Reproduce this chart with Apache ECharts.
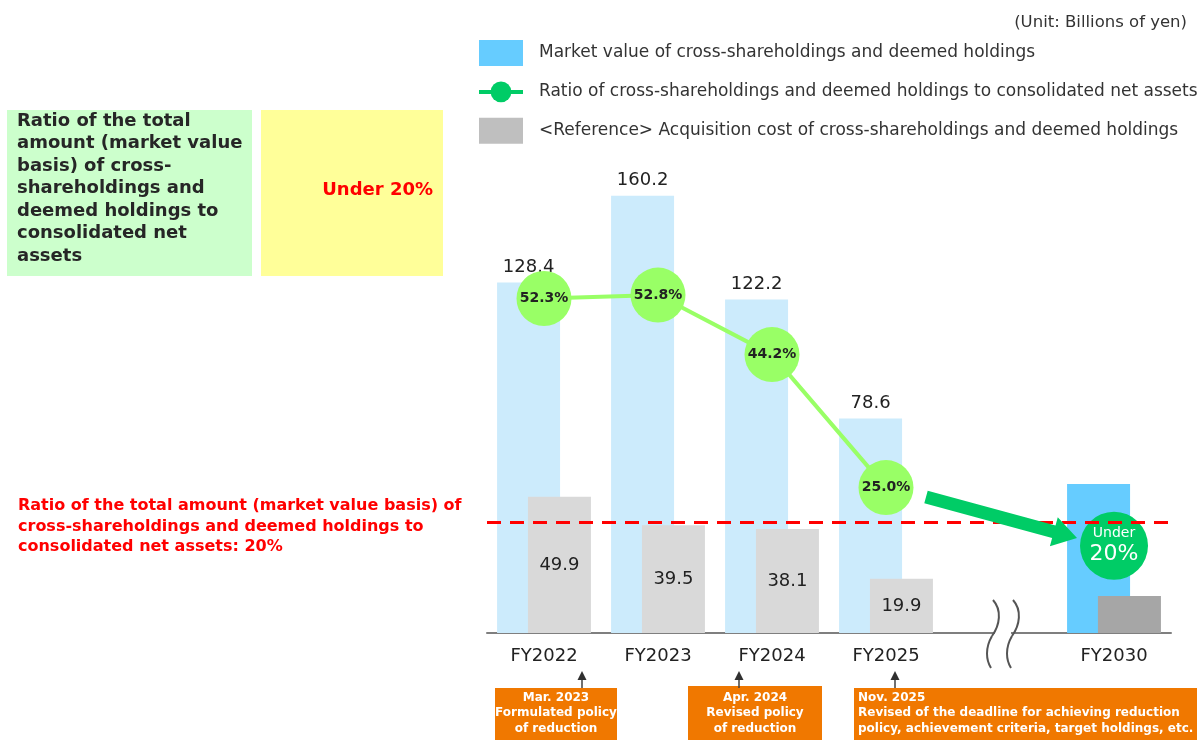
<!DOCTYPE html>
<html>
<head>
<meta charset="utf-8">
<script src="https://cdn.jsdelivr.net/npm/echarts@6/dist/echarts.min.js"></script>
<style>
  html, body { margin: 0; padding: 0; background: #fff; }
  #main { width: 1198px; height: 740px; }
</style>
</head>
<body>
<div id="main"></div>
<script>
var years = ['FY2022', 'FY2023', 'FY2024', 'FY2025', '', 'FY2030'];
var marketValue = [128.4, 160.2, 122.2, 78.6, '-', 54.6];
var acquisitionCost = [49.9, 39.5, 38.1, 19.9, '-', 13.6];
var ratio = [52.3, 52.8, 44.2, 25.0, '-', '-'];
var targetRatio = ['-', '-', '-', '-', '-', 16.6];
var targetLine = 20;

var nameMarket = 'Market value of cross-shareholdings and deemed holdings';
var nameRatio = 'Ratio of cross-shareholdings and deemed holdings to consolidated net assets';
var nameCost = '<Reference> Acquisition cost of cross-shareholdings and deemed holdings';

var FONT = 'DejaVu Sans';

var myChart = echarts.init(document.getElementById('main'));

// big green arrow (25% -> under 20%)
function arrowPoints(sx, sy, tx, ty, w, L, H) {
    var dx = tx - sx, dy = ty - sy;
    var len = Math.sqrt(dx * dx + dy * dy);
    var ux = dx / len, uy = dy / len;
    var nx = -uy, ny = ux;
    var bx = tx - L * ux, by = ty - L * uy;
    return [
        [sx + w * nx, sy + w * ny],
        [bx + w * nx, by + w * ny],
        [bx + H * nx, by + H * ny],
        [tx, ty],
        [bx - H * nx, by - H * ny],
        [bx - w * nx, by - w * ny],
        [sx - w * nx, sy - w * ny]
    ];
}

// small black arrow under the axis
function smallArrow(x) {
    return [
        { type: 'line', z: 100, shape: { x1: x, y1: 688, x2: x, y2: 678 }, style: { stroke: '#404040', lineWidth: 1.5 } },
        { type: 'polygon', z: 100, shape: { points: [[x, 671], [x - 4.5, 680], [x + 4.5, 680]] }, style: { fill: '#303030' } }
    ];
}

// wavy break mark
function breakMark(x) {
    return [
        { type: 'bezierCurve', z: 100, shape: { x1: x + 1, y1: 600, cpx1: x + 10, cpy1: 610, cpx2: x + 8, cpy2: 625, x2: x, y2: 636 }, style: { stroke: '#555', lineWidth: 2, fill: null } },
        { type: 'bezierCurve', z: 100, shape: { x1: x, y1: 636, cpx1: x - 7, cpy1: 648, cpx2: x - 6, cpy2: 660, x2: x - 1, y2: 668 }, style: { stroke: '#555', lineWidth: 2, fill: null } }
    ];
}

var graphics = [
    // unit
    { type: 'text', z: 100, style: { text: '(Unit: Billions of yen)', x: 1187, y: 23, align: 'right', verticalAlign: 'middle', fill: '#333', fontSize: 16.5, fontFamily: FONT } },
    // left panels
    { type: 'rect', shape: { x: 7, y: 110, width: 245, height: 166 }, style: { fill: '#CCFFCC' } },
    { type: 'rect', shape: { x: 261, y: 110, width: 182, height: 166 }, style: { fill: '#FFFF99' } },
    { type: 'text', style: { text: 'Ratio of the total\namount (market value\nbasis) of cross-\nshareholdings and\ndeemed holdings to\nconsolidated net\nassets', x: 17, y: 110, verticalAlign: 'top', lineHeight: 22.5, fill: '#262626', fontSize: 18, fontWeight: 'bold', fontFamily: FONT } },
    { type: 'text', style: { text: 'Under 20%', x: 433, y: 190, align: 'right', verticalAlign: 'middle', fill: '#FF0000', fontSize: 18, fontWeight: 'bold', fontFamily: FONT } },
    // red note
    { type: 'text', style: { text: 'Ratio of the total amount (market value basis) of\ncross-shareholdings and deemed holdings to\nconsolidated net assets: 20%', x: 18, y: 496, verticalAlign: 'top', lineHeight: 20.5, fill: '#FF0000', fontSize: 16, fontWeight: 'bold', fontFamily: FONT } },
    // orange boxes
    { type: 'rect', z: 100, shape: { x: 495, y: 688, width: 122, height: 52 }, style: { fill: '#F07800' } },
    { type: 'text', z: 101, style: { text: 'Mar. 2023\nFormulated policy\nof reduction', x: 556, y: 690, align: 'center', verticalAlign: 'top', lineHeight: 15.5, fill: '#fff', fontSize: 12, fontWeight: 'bold', fontFamily: FONT } },
    { type: 'rect', z: 100, shape: { x: 688, y: 686, width: 134, height: 54 }, style: { fill: '#F07800' } },
    { type: 'text', z: 101, style: { text: 'Apr. 2024\nRevised policy\nof reduction', x: 755, y: 690, align: 'center', verticalAlign: 'top', lineHeight: 15.5, fill: '#fff', fontSize: 12, fontWeight: 'bold', fontFamily: FONT } },
    { type: 'rect', z: 100, shape: { x: 854, y: 688, width: 343, height: 52 }, style: { fill: '#F07800' } },
    { type: 'text', z: 101, style: { text: 'Nov. 2025\nRevised of the deadline for achieving reduction\npolicy, achievement criteria, target holdings, etc.', x: 858, y: 690, align: 'left', verticalAlign: 'top', lineHeight: 15.5, fill: '#fff', fontSize: 12, fontWeight: 'bold', fontFamily: FONT } },
    // big arrow
    { type: 'polygon', z: 100, shape: { points: arrowPoints(926, 497, 1077, 538, 6.5, 24, 15) }, style: { fill: '#00CC66' } },
    // erase axis between break marks
    { type: 'rect', z: 99, shape: { x: 995, y: 630, width: 16, height: 6 }, style: { fill: '#fff' } }
].concat(smallArrow(582), smallArrow(739), smallArrow(895), breakMark(992), breakMark(1012));

var option = {
    animation: false,
    textStyle: { fontFamily: FONT },
    legend: {
        orient: 'vertical',
        left: 477,
        top: 40,
        padding: 0,
        itemWidth: 44,
        itemHeight: 26,
        itemGap: 15.5,
        selectedMode: false,
        textStyle: { fontSize: 17, color: '#333', fontFamily: FONT, padding: [0, 0, 0, 11] },
        data: [
            { name: nameMarket, icon: 'rect', itemStyle: { color: '#66CCFF' } },
            { name: nameRatio, itemStyle: { color: '#00CC66' }, lineStyle: { color: '#00CC66', width: 4 } },
            { name: nameCost, icon: 'rect', itemStyle: { color: '#BFBFBF' } }
        ]
    },
    grid: { left: 487, right: 27, top: 79, bottom: 107 },
    xAxis: {
        type: 'category',
        data: years,
        axisTick: { show: false },
        axisLine: { lineStyle: { color: '#7F7F7F', width: 2 } },
        axisLabel: { fontSize: 18, color: '#222', margin: 14, fontFamily: FONT }
    },
    yAxis: [
        { type: 'value', min: 0, max: 203, show: false },
        { type: 'value', min: 4, max: 84, show: false }
    ],
    series: [
        {
            name: nameMarket,
            type: 'bar',
            barWidth: 63,
            barGap: '-51%',
            itemStyle: { color: '#66CCFF' },
            label: { show: true, position: 'top', distance: 6, fontSize: 18, color: '#222', fontFamily: FONT },
            data: marketValue.map(function (v, i) {
                var last = years[i] === 'FY2030';
                return {
                    value: v,
                    itemStyle: { color: last ? '#66CCFF' : '#CCEBFC' },
                    label: { show: !last }
                };
            })
        },
        {
            name: nameCost,
            type: 'bar',
            barWidth: 63,
            barGap: '-51%',
            itemStyle: { color: '#D9D9D9' },
            label: { show: true, position: 'inside', fontSize: 18, color: '#222', fontFamily: FONT },
            data: acquisitionCost.map(function (v, i) {
                var last = years[i] === 'FY2030';
                return {
                    value: v,
                    itemStyle: { color: last ? '#A6A6A6' : '#D9D9D9' },
                    label: { show: !last }
                };
            })
        },
        {
            name: nameRatio,
            type: 'line',
            yAxisIndex: 1,
            data: ratio,
            symbol: 'circle',
            symbolSize: 55,
            lineStyle: { color: '#99FF66', width: 4 },
            itemStyle: { color: '#99FF66' },
            label: {
                show: true,
                position: 'inside',
                fontSize: 14,
                fontWeight: 'bold',
                color: '#222',
                fontFamily: FONT,
                formatter: function (p) { return p.value.toFixed(1) + '%'; }
            },
            markLine: {
                silent: true,
                symbol: ['none', 'none'],
                label: { show: false },
                lineStyle: { color: '#FF0000', type: [14, 9], width: 3 },
                data: [{ yAxis: targetLine }]
            }
        },
        {
            name: 'target',
            type: 'scatter',
            yAxisIndex: 1,
            data: targetRatio,
            symbolSize: 68,
            itemStyle: { color: '#00CC66', opacity: 1 },
            label: {
                show: true,
                position: 'inside',
                formatter: '{a|Under}\n{b|20%}',
                rich: {
                    a: { fontSize: 14, color: '#fff', fontFamily: FONT, lineHeight: 18 },
                    b: { fontSize: 22, color: '#fff', fontFamily: FONT, lineHeight: 24 }
                }
            }
        }
    ],
    graphic: graphics
};

myChart.setOption(option);
</script>
</body>
</html>
